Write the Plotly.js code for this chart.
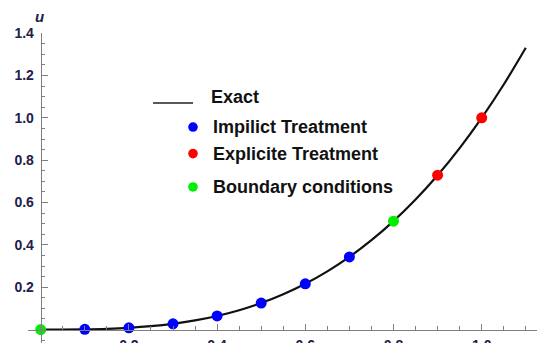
<!DOCTYPE html>
<html>
<head>
<meta charset="utf-8">
<script src="https://cdn.plot.ly/plotly-3.0.1.min.js"></script>
<style>html,body{margin:0;padding:0;background:#fff;}#chart{width:547px;height:343px;}</style>
</head>
<body>
<div id="chart"></div>
<script>
// Exact solution curve
const exactX = [0, 0.05, 0.1, 0.15, 0.2, 0.25, 0.3, 0.35, 0.4, 0.45, 0.5, 0.55, 0.6, 0.65, 0.7, 0.75, 0.8, 0.85, 0.9, 0.95, 1.0, 1.05, 1.1];
const exactU = [0, 0.0001, 0.001, 0.0034, 0.008, 0.0156, 0.027, 0.0429, 0.064, 0.0911, 0.125, 0.1664, 0.216, 0.2746, 0.343, 0.4219, 0.512, 0.6141, 0.729, 0.8574, 1.0, 1.1576, 1.331];
// Implicit treatment points
const implicitX = [0.1, 0.2, 0.3, 0.4, 0.5, 0.6, 0.7];
const implicitU = [0.001, 0.008, 0.027, 0.064, 0.125, 0.216, 0.343];
// Explicit treatment points
const explicitX = [0.9, 1.0];
const explicitU = [0.729, 1.0];
// Boundary conditions
const boundaryX = [0, 0.8];
const boundaryU = [0, 0.512];
// Tick labels
const xTicks = [0.2, 0.4, 0.6, 0.8, 1.0];
const xTickText = ['0.2', '0.4', '0.6', '0.8', '1.0'];
const yTicks = [0.2, 0.4, 0.6, 0.8, 1.0, 1.2, 1.4];
const yTickText = ['0.2', '0.4', '0.6', '0.8', '1.0', '1.2', '1.4'];
const legendNames = ['Exact', 'Impilict Treatment', 'Explicite Treatment', 'Boundary conditions'];

const W = 547, H = 343;
const M = {l: 28, r: 10, t: 32.5, b: 0};
const pw = W - M.l - M.r, ph = H - M.t - M.b;
const xPerUnit = 441, x0px = 40.7;
const yPerUnit = 212, y0px = 329.5;
const xr = [-(x0px - M.l) / xPerUnit, (W - M.r - x0px) / xPerUnit];
const yr = [-(H - M.b - y0px) / yPerUnit, (y0px - M.t) / yPerUnit];
const px = X => (X - M.l) / pw;
const py = Y => 1 - (Y - M.t) / ph;

const axisGray = '#808080';
const tickFont = {family: 'Liberation Sans, Arial, sans-serif', size: 14, color: '#20204a'};
const legFont = {family: 'Liberation Sans, Arial, sans-serif', size: 18, color: '#111'};
const bold = s => '<b>' + s + '</b>';

const traces = [
  {x: exactX, y: exactU, mode: 'lines', line: {color: '#111', width: 2.2, shape: 'spline'}, name: legendNames[0], cliponaxis: false},
  {x: implicitX, y: implicitU, mode: 'markers', marker: {color: '#0000FF', size: 11}, name: legendNames[1], cliponaxis: false},
  {x: explicitX, y: explicitU, mode: 'markers', marker: {color: '#FF0000', size: 11}, name: legendNames[2], cliponaxis: false},
  {x: boundaryX, y: boundaryU, mode: 'markers', marker: {color: '#00EE00', size: 11}, name: legendNames[3], cliponaxis: false}
];

const legY = [96.7, 126.5, 153.3, 186.5];
const annotations = legendNames.map((n, i) => ({
  xref: 'paper', yref: 'paper', x: px(i === 0 ? 209 : 211), y: py(legY[i]),
  xanchor: 'left', yanchor: 'middle', text: bold(n), showarrow: false, font: legFont
}));
annotations.push({xref: 'paper', yref: 'paper', x: px(39.5), y: py(16), xanchor: 'center', yanchor: 'middle',
  text: '<b><i>u</i></b>', showarrow: false, font: {family: 'Liberation Sans, Arial, sans-serif', size: 15, color: '#20204a'}});

const shapes = [
  {type: 'line', xref: 'paper', yref: 'paper', x0: px(153), x1: px(193), y0: py(102.7), y1: py(102.7), line: {color: '#222', width: 1.5}}
];
const dotColors = ['#0000FF', '#FF0000', '#00EE00'];
[126.7, 153.3, 186.7].forEach((Y, i) => {
  const r = 4.8;
  shapes.push({type: 'circle', xref: 'paper', yref: 'paper', x0: px(193 - r), x1: px(193 + r), y0: py(Y + r), y1: py(Y - r),
    fillcolor: dotColors[i], line: {width: 0}});
});

const layout = {
  width: W, height: H, margin: M, paper_bgcolor: '#fff', plot_bgcolor: '#fff', showlegend: false,
  xaxis: {range: xr, anchor: 'free', position: (0 - yr[0]) / (yr[1] - yr[0]), showgrid: false, zeroline: false,
    showline: true, linecolor: axisGray, linewidth: 1.2, ticks: 'inside', ticklen: 6, tickcolor: axisGray, tickwidth: 1,
    tickmode: 'array', tickvals: xTicks, ticktext: xTickText.map(bold), tickfont: tickFont, ticklabelstandoff: 2,
    minor: {tickmode: 'linear', tick0: 0, dtick: 0.05, ticks: 'inside', ticklen: 3.5, tickcolor: axisGray, tickwidth: 1}},
  yaxis: {range: yr, anchor: 'free', position: (0 - xr[0]) / (xr[1] - xr[0]), showgrid: false, zeroline: false,
    showline: true, linecolor: axisGray, linewidth: 1.2, ticks: 'inside', ticklen: 6, tickcolor: axisGray, tickwidth: 1,
    tickmode: 'array', tickvals: yTicks, ticktext: yTickText.map(bold), tickfont: tickFont, ticklabelstandoff: 4,
    minor: {tickmode: 'linear', tick0: 0, dtick: 0.05, ticks: 'inside', ticklen: 3.5, tickcolor: axisGray, tickwidth: 1}},
  annotations: annotations, shapes: shapes
};
Plotly.newPlot('chart', traces, layout, {displayModeBar: false, staticPlot: true});
</script>
</body>
</html>
